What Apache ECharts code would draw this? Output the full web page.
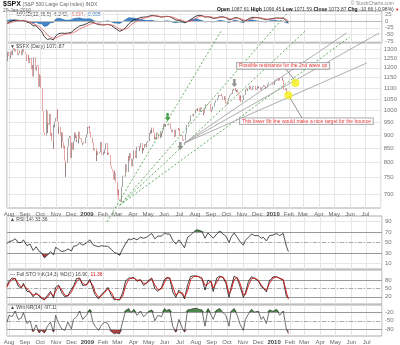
<!DOCTYPE html>
<html>
<head>
<meta charset="utf-8">
<script src="https://cdn.jsdelivr.net/npm/echarts@6/dist/echarts.min.js"></script>
<style>
html,body{margin:0;padding:0;background:#fff;}
#c{width:400px;height:345px;}
</style>
</head>
<body>
<div id="c"></div>
<script>
// ---- S&P 500 daily closes, one array per month ----
const close2008Jul = [1234.37,1263.20,1284.26,1267.38];
const close2008Aug = [1260.31,1249.01,1284.88,1289.19,1266.07,1296.32,1305.32,1289.59,1285.83,1292.93,1298.20,1278.60,1266.69,1274.54,1277.72,1292.20,1266.84,1271.51,1281.66,1300.68,1282.83];
const close2008Sep = [1277.58,1274.98,1236.83,1242.31,1267.79,1224.51,1232.04,1249.05,1251.70,1192.70,1213.60,1156.39,1206.51,1255.08,1207.09,1188.22,1185.87,1209.18,1213.27,1106.39,1166.36];
const close2008Oct = [1161.06,1114.28,1099.23,1056.89,996.23,984.94,909.92,899.22,1003.35,998.01,907.84,946.43,940.55,985.40,955.05,896.78,908.11,876.77,848.92,940.51,930.09,954.09,968.75];
const close2008Nov = [966.30,1005.75,952.77,904.88,930.99,919.21,898.95,852.30,911.29,873.29,850.75,859.12,806.58,752.44,800.03,851.81,857.39,887.68,896.24];
const close2008Dec = [816.21,848.81,870.74,845.22,876.07,909.70,888.67,899.24,873.59,879.73,868.57,913.18,904.42,885.28,887.88,871.63,863.16,868.15,872.80,869.42,890.64,903.25];
const close2009Jan = [931.80,927.45,934.70,906.65,909.73,890.35,870.26,871.79,842.62,843.74,850.12,805.22,840.24,827.50,831.95,836.57,845.71,874.09,845.14,825.88];
const close2009Feb = [825.44,838.51,832.23,845.85,868.60,869.89,827.16,833.74,835.19,826.84,789.17,788.42,778.94,770.05,743.33,773.14,764.90,752.83,735.09];
const close2009Mar = [700.82,696.33,712.87,682.55,683.38,676.53,719.60,721.36,750.74,756.55,753.89,778.12,794.35,784.04,768.54,822.92,806.12,813.88,832.86,815.94,787.53,797.87];
const close2009Apr = [811.08,834.38,842.50,835.48,815.55,825.16,856.56,858.73,841.50,852.06,865.30,869.60,832.39,850.08,843.55,851.92,866.23,857.51,855.16,873.64,872.81];
const close2009May = [877.52,907.24,903.80,919.53,907.39,929.23,909.24,908.35,883.92,893.07,882.88,909.71,908.13,903.47,888.33,887.00,910.33,893.06,906.83,919.14];
const close2009Jun = [942.87,944.74,931.76,942.46,940.09,939.14,942.43,939.15,944.89,946.21,923.72,911.97,910.71,918.37,921.23,893.04,895.10,900.94,920.26,918.90,927.23,919.32];
const close2009Jul = [923.33,896.42,898.72,881.03,879.56,882.68,879.13,901.05,905.84,932.68,940.74,940.38,951.13,954.58,954.07,976.29,979.26,982.18,979.62,975.15,986.75,987.48];
const close2009Aug = [1002.63,1005.65,1002.72,997.08,1010.48,1007.10,994.35,1005.81,1012.73,1004.09,979.73,989.67,996.46,1007.37,1026.13,1025.57,1028.00,1028.12,1030.98,1028.93,1020.62];
const close2009Sep = [998.04,994.75,1003.24,1016.40,1025.39,1033.37,1044.14,1042.73,1049.34,1052.63,1068.76,1065.49,1068.30,1064.66,1071.66,1060.87,1050.78,1044.38,1062.98,1060.61,1057.08];
const close2009Oct = [1029.85,1025.21,1040.46,1054.72,1057.58,1065.48,1071.49,1076.19,1073.19,1092.02,1096.56,1087.68,1097.91,1091.06,1081.40,1092.91,1079.60,1066.95,1063.41,1042.63,1066.11,1036.19];
const close2009Nov = [1042.88,1045.41,1046.50,1066.63,1069.30,1093.08,1093.01,1098.51,1087.24,1093.48,1109.30,1110.32,1109.80,1094.90,1091.38,1106.24,1105.65,1110.63,1091.49,1095.63];
const close2009Dec = [1108.86,1109.24,1099.92,1105.98,1103.25,1091.94,1095.95,1102.35,1106.41,1114.11,1107.93,1109.18,1096.08,1102.47,1114.05,1118.02,1120.59,1126.48,1127.78,1126.20,1126.42,1115.10];
const close2010Jan = [1132.99,1136.52,1137.14,1141.69,1144.98,1146.98,1136.22,1145.68,1148.46,1136.03,1150.23,1138.04,1116.48,1091.76,1096.78,1092.17,1097.50,1084.53,1073.87];

const monthStarts = ['2008-07-28','2008-08-01','2008-09-01','2008-10-01','2008-11-01','2008-12-01','2009-01-01','2009-02-01','2009-03-01','2009-04-01','2009-05-01','2009-06-01','2009-07-01','2009-08-01','2009-09-01','2009-10-01','2009-11-01','2009-12-01','2010-01-01'];
const monthCloses = [close2008Jul,close2008Aug,close2008Sep,close2008Oct,close2008Nov,close2008Dec,close2009Jan,close2009Feb,close2009Mar,close2009Apr,close2009May,close2009Jun,close2009Jul,close2009Aug,close2009Sep,close2009Oct,close2009Nov,close2009Dec,close2010Jan];
const marketHolidays = ['2008-09-01','2008-11-27','2008-12-25','2009-01-01','2009-01-19','2009-02-16','2009-04-10','2009-05-25','2009-07-03','2009-09-07','2009-11-26','2009-12-25','2010-01-01','2010-01-18'];

// ---- indicator readings, one value every 4th session ----
const sampleStep = 4;
const macdLine = [-8,-4,1,4,3,2,3,-3,-7,-17,-18,-30,-36,-58,-69,-66,-70,-56,-47,-45,-46,-45,-42,-34,-26,-18,-15,-10,-3,-4,-8,-13,-14,-14,-12,-16,-25,-30,-38,-34,-24,-10,-3,5,8,14,15,16,18,22,20,18,15,17,18,17,11,4,3,-1,-6,-2,6,14,20,22,21,15,16,14,10,12,16,16,13,5,6,12,13,7,0,2,8,14,14,13,10,8,5,8,10,12,11,11,1,-6];
const macdSignal = [-10,-8,-4,0,2,2,2,0,-4,-9,-14,-20,-27,-38,-52,-60,-65,-63,-58,-53,-50,-48,-47,-43,-37,-30,-24,-18,-12,-8,-8,-10,-12,-13,-13,-14,-18,-23,-29,-32,-30,-23,-15,-6,0,7,11,14,16,19,20,19,17,17,17,17,15,10,6,3,-1,-2,1,6,12,17,19,18,17,16,13,12,13,15,14,10,8,9,11,10,5,3,5,9,12,13,12,10,8,7,8,10,11,11,7,1];
const rsiValues = [48,52,53,57,50,50,55,44,47,35,42,33,31,21,26,33,27,41,37,33,34,38,34,43,44,49,45,49,55,46,44,42,44,43,43,37,31,30,26,38,48,57,55,58,55,60,58,60,63,67,57,62,62,68,66,66,54,47,55,46,40,60,64,70,74,73,71,58,68,62,58,66,71,66,62,50,60,68,60,51,45,54,60,66,63,63,58,60,53,63,64,67,63,67,43,33];
const stochK = [62,78,90,88,60,52,70,40,38,20,35,22,15,8,25,40,15,55,64,35,20,25,48,60,88,90,62,65,85,50,28,12,30,40,55,25,8,10,8,35,80,90,90,92,78,84,62,72,82,90,50,40,55,85,92,90,38,18,45,28,12,65,96,98,97,94,88,45,82,75,40,90,97,92,70,18,55,97,90,55,18,35,78,95,88,80,58,52,38,80,94,95,88,82,22,17];
const stochD = [56,72,84,88,70,56,64,50,40,26,30,26,18,11,18,34,24,40,60,46,26,22,38,54,76,88,70,63,78,62,38,18,24,36,50,36,14,10,9,22,62,85,89,90,82,82,70,70,78,86,64,46,50,74,90,90,58,26,36,34,18,42,84,96,97,95,90,62,68,78,52,74,94,94,78,32,44,84,92,68,28,28,62,88,90,82,64,54,44,70,90,94,90,84,38,11];
const willR = [-55,-30,-35,-15,-45,-40,-20,-60,-50,-90,-65,-95,-85,-95,-70,-55,-92,-30,-60,-80,-85,-55,-80,-45,-35,-15,-45,-30,-8,-55,-70,-85,-65,-55,-60,-90,-98,-95,-98,-55,-12,-5,-20,-8,-30,-15,-35,-25,-15,-10,-50,-30,-35,-5,-12,-8,-70,-92,-45,-78,-92,-10,-8,-5,-4,-8,-10,-70,-5,-30,-45,-10,-5,-20,-30,-70,-15,-5,-30,-65,-85,-45,-25,-8,-18,-15,-45,-35,-60,-10,-15,-8,-30,-15,-80,-97];

// ---- drawn annotations (date, price) ----
const greenFanLines = [
  [['2009-02-09',621],['2009-09-22',1410]],
  [['2009-03-06',666.8],['2010-01-29',1516]],
  [['2009-03-06',666.8],['2010-03-05',1404]],
  [['2009-03-06',666.8],['2010-05-31',1368]]
];
const grayFanLines = [
  [['2009-07-10',869],['2010-05-25',1392]],
  [['2009-07-10',869],['2010-07-28',1392]],
  [['2009-07-10',869],['2010-07-04',1225]]
];
const targetDots = [['2010-02-14',1124],['2010-01-31',1067]];
const noteConnectors = [
  [['2010-01-25',1197],['2010-02-12',1139]],
  [['2010-02-02',1060],['2010-02-28',964]]
];
const notes = [
  ['2009-10-22',1210,'Possible resistance for the 2nd wave up'],
  ['2009-10-28',955,'This lower fib line would make a nice target for the bounce']
];
const greenArrows = [['2009-06-08',972]];
const grayArrows = [['2009-10-17',1124],['2009-07-03',859]];

// ---- tick values ----
const macdTicks = [25,0,-25,-50,-75];
const priceTicks = [700,750,800,850,900,950,1000,1050,1100,1150,1200,1250,1300];
const rsiTicks = [10,30,50,70,90];
const stochTicks = [20,50,80];
const willTicks = [-80,-50,-20];

// ---- build session list ----
function ymd(s){ const p = s.split('-').map(Number); return new Date(p[0], p[1]-1, p[2]); }
function key(d){ return d.getFullYear()+'-'+String(d.getMonth()+1).padStart(2,'0')+'-'+String(d.getDate()).padStart(2,'0'); }
const holidaySet = new Set(marketHolidays);
const sessions = [];
const closes = [];
monthStarts.forEach((ms, mi) => {
  const d = ymd(ms); const m = d.getMonth();
  const vals = monthCloses[mi]; let k = 0;
  while (d.getMonth() === m && k < vals.length) {
    const wd = d.getDay();
    if (wd !== 0 && wd !== 6 && !holidaySet.has(key(d))) {
      sessions.push(d.getTime()); closes.push(vals[k]); k++;
    }
    d.setDate(d.getDate()+1);
  }
});

const candles = closes.map((c, i) => {
  const o = i === 0 ? c : closes[i-1];
  return [sessions[i], o, c, Math.min(o,c), Math.max(o,c)];
});
const sampled = arr => arr.map((v, i) => [sessions[Math.min(i*sampleStep, sessions.length-1)], v]);
const macdData = sampled(macdLine);
const signalData = sampled(macdSignal);
const histData = macdLine.map((v, i) => [macdData[i][0], v - macdSignal[i]]);
const rsiData = sampled(rsiValues);
const kData = sampled(stochK);
const dData = sampled(stochD);
const wData = sampled(willR);
const pt = p => [ymd(p[0]).getTime(), p[1]];

const xMin = ymd('2008-07-28').getTime();
const xMax = ymd('2010-07-31').getTime();
const monthNames = ['Jan','Feb','Mar','Apr','May','Jun','Jul','Aug','Sep','Oct','Nov','Dec'];
const FONT = 'Liberation Sans, Arial, sans-serif';

function xAxis(gi, labels) {
  return {
    type: 'time', gridIndex: gi, min: xMin, max: xMax,
    splitNumber: 26, minInterval: 28*864e5, maxInterval: 31*864e5,
    axisLine: {show: false}, axisTick: {show: false},
    axisLabel: {
      show: labels, fontSize: 6, color: '#666', margin: 3, fontFamily: FONT, hideOverlap: false,
      formatter: v => { const d = new Date(v); return d.getMonth() === 0 ? '{y|' + d.getFullYear() + '}' : monthNames[d.getMonth()]; },
      rich: {y: {fontSize: 6, fontWeight: 'bold', color: '#444', fontFamily: FONT}}
    },
    splitLine: {show: true, lineStyle: {color: '#e6e6e6', width: 1}}
  };
}
function yAxis(gi, min, max, ticks, type) {
  return {
    type: type || 'value', gridIndex: gi, min, max, position: 'right', scale: true,
    axisLine: {show: false},
    axisTick: {show: false, customValues: ticks},
    axisLabel: {customValues: ticks, fontSize: 6, color: '#777', margin: 3, fontFamily: FONT, formatter: v => String(Math.round(v))},
    splitLine: {show: true, lineStyle: {color: '#e6e6e6', width: 1}}
  };
}
const gridBase = {left: 7, right: 18, show: true, borderColor: '#aaa', borderWidth: 1, backgroundColor: '#fff'};

const lineS = (name, xi, data, color, width, extra) => Object.assign({
  name, type: 'line', xAxisIndex: xi, yAxisIndex: xi, data, symbol: 'none', silent: true,
  lineStyle: {color, width}, animation: false, z: 5
}, extra || {});
const levelLine = (xi, vals, color, type) => ({
  type: 'line', xAxisIndex: xi, yAxisIndex: xi, data: [], silent: true,
  markLine: {symbol: 'none', silent: true, label: {show: false}, animation: false,
    data: vals.map(v => ({yAxis: v, lineStyle: {color, width: 1, type}}))}
});
const bandFill = (xi, data, level, color, above) => ({
  type: 'line', xAxisIndex: xi, yAxisIndex: xi, symbol: 'none', silent: true, animation: false,
  data: data.map(p => [p[0], above ? Math.max(p[1], level) : Math.min(p[1], level)]),
  lineStyle: {width: 0}, areaStyle: {color, opacity: 1, origin: level}, z: 3
});
const fanSeries = (seg, color, dash) => ({
  type: 'line', xAxisIndex: 1, yAxisIndex: 1, data: seg.map(pt), symbol: 'none', silent: true,
  clip: false, animation: false, lineStyle: {color, width: 0.8, type: dash}, z: 6
});

const series = [
  // MACD
  lineS('hist', 0, histData, '#1c63a8', 0.6, {areaStyle: {color: '#2f78c0', opacity: 0.9, origin: 0}, z: 3}),
  levelLine(0, [0], '#bbb', 'solid'),
  lineS('macd', 0, macdData, '#111', 0.8),
  lineS('signal', 0, signalData, '#e06060', 0.8),
  // price
  {type: 'candlestick', xAxisIndex: 1, yAxisIndex: 1, data: candles, barMaxWidth: 1, silent: true, animation: false,
   encode: {x: 0, y: [1,2,3,4]},
   itemStyle: {color: '#666', color0: '#e06a6a', borderColor: '#666', borderColor0: '#e06a6a', borderWidth: 0.6}, z: 4},
  ...greenFanLines.map(s => fanSeries(s, '#3f9a3f', [2,2])),
  ...grayFanLines.map(s => fanSeries(s, '#9a9a9a', 'solid')),
  ...noteConnectors.map(s => fanSeries(s, '#777', 'solid')),
  {type: 'scatter', xAxisIndex: 1, yAxisIndex: 1, data: targetDots.map(pt), symbolSize: 8, silent: true, animation: false,
   itemStyle: {color: '#f4ee14'}, z: 8},
  {type: 'scatter', xAxisIndex: 1, yAxisIndex: 1, data: greenArrows.map(pt), symbol: 'path://M3,0H7V6H10L5,11L0,6H3Z', symbolSize: [6,8],
   silent: true, animation: false, itemStyle: {color: '#1f8a1f'}, z: 8},
  {type: 'scatter', xAxisIndex: 1, yAxisIndex: 1, data: grayArrows.map(pt), symbol: 'path://M3,0H7V6H10L5,11L0,6H3Z', symbolSize: [6,8],
   silent: true, animation: false, itemStyle: {color: '#777'}, z: 8},
  {type: 'scatter', xAxisIndex: 1, yAxisIndex: 1, data: notes.map(n => ({value: [ymd(n[0]).getTime(), n[1]], note: n[2]})),
   symbolSize: 0, silent: true, animation: false, z: 9,
   label: {show: true, position: 'right', distance: 0, formatter: p => p.data.note, color: '#e00000', fontSize: 5, fontFamily: FONT,
     backgroundColor: '#fff', borderColor: '#888', borderWidth: 0.8, padding: [1,2,0,2]}},
  // RSI
  levelLine(2, [70,30], '#999', 'solid'),
  levelLine(2, [50], '#aaa', [4,2,1,2]),
  bandFill(2, rsiData, 70, '#4c8a4c', true),
  bandFill(2, rsiData, 30, '#b04040', false),
  lineS('rsi', 2, rsiData, '#222', 0.8),
  // Full stochastics
  levelLine(3, [80,20], '#999', 'solid'),
  levelLine(3, [50], '#aaa', [4,2,1,2]),
  lineS('k', 3, kData, '#111', 0.8),
  lineS('d', 3, dData, '#d01010', 0.9),
  // Williams %R
  levelLine(4, [-20,-80], '#999', 'solid'),
  levelLine(4, [-50], '#aaa', [4,2,1,2]),
  bandFill(4, wData, -20, '#4c8a4c', true),
  bandFill(4, wData, -80, '#b04040', false),
  lineS('w', 4, wData, '#333', 0.7)
];

const chart = echarts.init(document.getElementById('c'));
chart.setOption({
  animation: false,
  backgroundColor: '#fff',
  grid: [
    Object.assign({top: 11, height: 32}, gridBase),
    Object.assign({top: 43, height: 165}, gridBase),
    Object.assign({top: 216, height: 53}, gridBase),
    Object.assign({top: 270, height: 34}, gridBase),
    Object.assign({top: 305, height: 31}, gridBase)
  ],
  xAxis: [xAxis(0,false), xAxis(1,true), xAxis(2,false), xAxis(3,false), xAxis(4,true)],
  yAxis: [
    yAxis(0, -82, 38, macdTicks),
    Object.assign(yAxis(1, 659, 1334, priceTicks, 'log'), {logBase: 10}),
    yAxis(2, 0, 100, rsiTicks),
    yAxis(3, -7, 120, stochTicks),
    yAxis(4, -106, 8, willTicks)
  ],
  series,
  graphic: [
    {type: 'text', left: 3, top: 1, style: {text: '{b|$SPX} {g|(S&P 500 Large Cap Index) INDX}', font: '6px ' + FONT,
      rich: {b: {fontSize: 7, fontWeight: 'bold', fill: '#111', fontFamily: FONT}, g: {fontSize: 5, fill: '#666', fontFamily: FONT}}}},
    {type: 'text', left: 3, top: 8, style: {text: '29-Jan-2010', font: '5px ' + FONT, fill: '#666'}},
    {type: 'text', right: 6, top: 1, style: {text: '© StockCharts.com', font: '5px ' + FONT, fill: '#888'}},
    {type: 'text', left: 217, top: 7, style: {
      text: '{b|Open} 1087.61 {b|High} 1096.45 {b|Low} 1071.59 {b|Close} 1073.87 {b|Chg} -10.66 (-0.98%) {r|▼}',
      font: '5px ' + FONT, fill: '#444',
      rich: {b: {fontWeight: 'bold', fill: '#111', fontSize: 5, fontFamily: FONT}, r: {fill: '#d00', fontSize: 4}}}},
    {type: 'text', left: 10, top: 12, style: {
      text: '{k|—} MACD(12,26,9) -6.242, {r|-5.334}, {bl|-0.908}', font: '5px ' + FONT, fill: '#444',
      rich: {k: {fill: '#111', fontSize: 5}, r: {fill: '#e06060', fontSize: 5, fontFamily: FONT}, bl: {fill: '#2f78c0', fontSize: 5, fontFamily: FONT}}}},
    {type: 'text', left: 10, top: 44, style: {text: '▼ $SPX (Daily) 1073.87', font: '5px ' + FONT, fill: '#444'}},
    {type: 'text', left: 10, top: 217, style: {text: '▲ RSI(14) 33.36', font: '5px ' + FONT, fill: '#444'}},
    {type: 'text', left: 10, top: 272, style: {
      text: '— Full STO %K(14,3) %D(3) 16.90, {r|11.36}', font: '5px ' + FONT, fill: '#444',
      rich: {r: {fill: '#d01010', fontSize: 5, fontFamily: FONT}}}},
    {type: 'text', left: 10, top: 305, style: {text: '▲ Wm%R(14) -97.11', font: '5px ' + FONT, fill: '#444'}}
  ]
});
</script>
</body>
</html>
